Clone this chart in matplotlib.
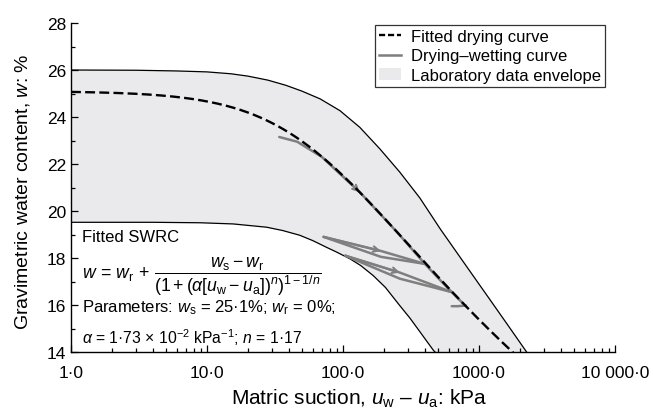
import numpy as np
import matplotlib
matplotlib.use('Agg')
import matplotlib.pyplot as plt
from matplotlib.ticker import FixedLocator, LogLocator, NullFormatter, MultipleLocator

# fitted van Genuchten parameters
W_S = 25.1
W_R = 0.0
ALPHA = 1.73e-2
N_VG = 1.17

# laboratory data envelope (suction kPa, water content %)
upper_u = [1, 3, 6, 10, 15, 20, 28, 38, 50, 68, 95, 133, 187, 262, 368, 520, 813, 1200, 1650, 2240]
upper_w = [26.0, 25.99, 25.96, 25.92, 25.84, 25.74, 25.57, 25.35, 25.1, 24.77, 24.27, 23.56,
           22.64, 21.65, 20.55, 19.23, 17.63, 16.24, 15.1, 14.0]
lower_u = [1, 4, 8.9, 15.6, 27.5, 36, 48, 60, 76, 90, 113, 135, 167, 205, 262, 310, 368, 461, 475]
lower_w = [19.52, 19.52, 19.5, 19.45, 19.31, 19.17, 18.97, 18.74, 18.45, 18.25, 17.96, 17.68,
           17.25, 16.75, 15.97, 15.45, 14.86, 14.08, 14.0]

# drying-wetting path segments
primary_u = [34, 46, 70, 133, 250, 400]
primary_w = [23.15, 22.95, 22.3, 20.8, 19.1, 17.75]
wet1_u = [400, 190, 72]
wet1_w = [17.75, 18.05, 18.9]
dry1_u = [72, 190, 400]
dry1_w = [18.9, 18.3, 17.75]
dry2_u = [400, 510, 630]
dry2_w = [17.75, 17.1, 16.55]
wet2_u = [630, 262, 104]
wet2_w = [16.55, 17.12, 18.1]
dry3_u = [104, 262, 630]
dry3_w = [18.1, 17.38, 16.55]
dry4_u = [630, 800]
dry4_w = [16.55, 15.95]
wet3_u = [800, 700, 630]
wet3_w = [15.98, 15.95, 15.95]

x_ticks = [1, 10, 100, 1000, 10000]
x_ticklabels = ['1·0', '10·0', '100·0', '1000·0', '10 000·0']
y_ticks = [14, 16, 18, 20, 22, 24, 26, 28]


def dot(v, fmt):
    return format(v, fmt).replace('.', '·')


plt.rcParams['font.family'] = ['Liberation Sans', 'DejaVu Sans']
plt.rcParams['mathtext.fontset'] = 'custom'
plt.rcParams['mathtext.rm'] = 'Liberation Sans'
plt.rcParams['mathtext.it'] = 'Liberation Sans:italic'
plt.rcParams['mathtext.bf'] = 'Liberation Sans:bold'

fig = plt.figure(figsize=(6.53, 4.14), dpi=100)
ax = fig.add_subplot(111)
fig.subplots_adjust(left=0.1087, right=0.9418, bottom=0.1473, top=0.942)

env_color = '#eaeaec'
dw_color = '#7f7f7f'

# envelope polygon: upper bound out, lower bound back
ax.fill(upper_u + lower_u[::-1], upper_w + lower_w[::-1], color=env_color, lw=0, zorder=1)
ax.plot(upper_u, upper_w, color='k', lw=0.9, zorder=2)
ax.plot(lower_u, lower_w, color='k', lw=0.9, zorder=2)

# fitted drying curve
u = np.geomspace(1, 2500, 400)
w = W_R + (W_S - W_R) / (1 + (ALPHA * u) ** N_VG) ** (1 - 1 / N_VG)
ax.plot(u, w, color='k', lw=1.7, dashes=(4.2, 1.8), zorder=4)

segments = [(primary_u, primary_w), (wet1_u, wet1_w), (dry1_u, dry1_w),
            (dry2_u, dry2_w), (wet2_u, wet2_w), (dry3_u, dry3_w),
            (dry4_u, dry4_w), (wet3_u, wet3_w)]
for su, sw in segments:
    ax.plot(su, sw, color=dw_color, lw=1.8, solid_capstyle='round', zorder=3)

# direction arrows on the drying branches
for su, sw, i in [(primary_u, primary_w, 3), (dry1_u, dry1_w, 1), (dry3_u, dry3_w, 1)]:
    ax.annotate('', xy=(su[i], sw[i]), xytext=(su[i - 1], sw[i - 1]),
                arrowprops=dict(arrowstyle='->', color=dw_color, lw=1.5,
                                shrinkA=0, shrinkB=0, mutation_scale=10),
                zorder=3)

# legend handles
ax.plot([], [], color='k', lw=1.7, dashes=(2.6, 1.2), label='Fitted drying curve')
ax.plot([], [], color=dw_color, lw=1.8, label='Drying–wetting curve')
ax.fill([], [], color=env_color, lw=0, label='Laboratory data envelope')
leg = ax.legend(loc='upper right', bbox_to_anchor=(0.982, 0.995), borderaxespad=0,
                fontsize=12, handlelength=1.3, handletextpad=0.6, labelspacing=0.28,
                fancybox=False, framealpha=1, edgecolor='#333333', borderpad=0.25)
leg.get_frame().set_linewidth(0.9)

ax.set_xscale('log')
ax.set_xlim(1, 10000)
ax.set_ylim(14, 28)
ax.xaxis.set_major_locator(FixedLocator(x_ticks))
ax.set_xticklabels(x_ticklabels)
ax.xaxis.set_minor_locator(LogLocator(base=10, subs=np.arange(2, 10), numticks=20))
ax.xaxis.set_minor_formatter(NullFormatter())
ax.set_yticks(y_ticks)
ax.yaxis.set_minor_locator(MultipleLocator(1))
ax.tick_params(which='both', direction='in', labelsize=12.5, width=0.9)
ax.tick_params(which='major', length=5)
ax.tick_params(which='minor', length=3)
ax.tick_params(axis='x', pad=9)
for side in ('top', 'right'):
    ax.spines[side].set_visible(False)
for side in ('left', 'bottom'):
    ax.spines[side].set_linewidth(1.0)

ax.set_xlabel(r'Matric suction, $u_{\rm w}$ – $u_{\rm a}$: kPa', fontsize=15)
ax.set_ylabel(r'Gravimetric water content, $w$: %', fontsize=14)
ax.xaxis.set_label_coords(0.53, -0.105)
ax.yaxis.set_label_coords(-0.072, 0.49)

# model annotation
ax.text(0.02, 0.35, 'Fitted SWRC', transform=ax.transAxes, fontsize=12, va='center')
ax.text(0.02, 0.232,
        r'$w\,=\,w_{\rm r}\,+\,\dfrac{w_{\rm s} - w_{\rm r}}'
        r'{(1 + (\alpha[u_{\rm w} - u_{\rm a}])^n)^{1 - 1/n}}$',
        transform=ax.transAxes, fontsize=12.7, va='center')
ax.text(0.02, 0.137,
        r'Parameters: $w_{\rm s}$ = ' + dot(W_S, '.1f') + r'%; $w_{\rm r}$ = ' + dot(W_R, '.0f') + '%;',
        transform=ax.transAxes, fontsize=12, va='center')
ax.text(0.02, 0.046,
        r'$\alpha$ = ' + dot(ALPHA * 100, '.2f') + r' × 10$^{-2}$ kPa$^{-1}$; $n$ = ' + dot(N_VG, '.2f'),
        transform=ax.transAxes, fontsize=11.3, va='center')

fig.savefig('out.png', dpi=100)
